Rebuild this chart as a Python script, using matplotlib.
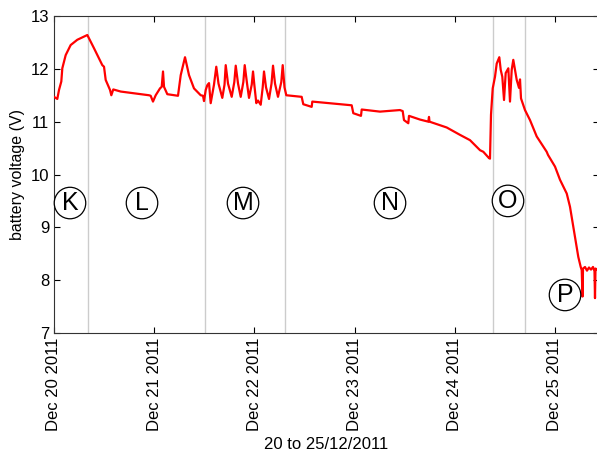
import datetime as dt
import matplotlib
matplotlib.use("Agg")
import matplotlib.pyplot as plt
import matplotlib.dates as mdates

# hours since 2011-12-20 00:00, battery voltage (V)
hours = [0.00, 0.79, 1.20, 1.75, 1.99, 2.80, 3.99, 5.58, 7.74, 7.98, 9.58, 11.57, 11.98, 12.38,
         13.42, 13.73, 14.20, 15.98, 22.75, 23.16, 23.71, 24.36, 25.39, 25.80, 26.11, 26.35,
         27.14, 29.70, 30.35, 31.38, 32.34, 33.53, 35.14, 35.69, 35.93, 36.34, 36.72, 37.13,
         37.53, 38.32, 38.87, 39.40, 40.31, 40.84, 41.13, 41.68, 42.56, 43.19, 43.53, 44.08,
         44.72, 45.35, 45.68, 46.24, 46.71, 47.36, 47.67, 47.98, 48.46, 48.86, 49.51, 49.99,
         50.30, 50.78, 51.50, 52.10, 52.46, 52.94, 53.65, 54.44, 54.78, 55.21, 55.64, 59.32,
         59.71, 61.72, 61.87, 70.11, 71.30, 71.69, 73.53, 73.70, 78.08, 82.87, 83.52, 83.83,
         84.86, 85.03, 87.66, 89.65, 89.82, 89.94, 94.06, 97.25, 99.64, 102.04, 102.83, 104.19,
         104.43, 104.67, 105.08, 105.63, 106.04, 106.66, 107.00, 107.38, 107.79, 108.19, 108.82,
         109.22, 109.63, 110.01, 110.83, 111.38, 111.62, 111.86, 112.81, 114.01, 115.62, 118.01,
         118.33, 120.00, 121.20, 122.81, 123.59, 124.79, 125.58, 126.16, 126.40, 126.59, 126.71,
         127.19, 127.66, 128.14, 128.62, 129.10, 129.46, 129.58, 129.70, 130.06]
volts = [11.47, 11.43, 11.60, 11.76, 12.01, 12.26, 12.45, 12.55, 12.63, 12.64, 12.39, 12.07, 12.04, 11.79,
         11.60, 11.50, 11.61, 11.57, 11.50, 11.49, 11.38, 11.50, 11.63, 11.66, 11.95, 11.66,
         11.52, 11.49, 11.88, 12.22, 11.88, 11.63, 11.50, 11.49, 11.39, 11.60, 11.69, 11.73,
         11.35, 11.70, 12.04, 11.72, 11.45, 11.70, 12.07, 11.72, 11.47, 11.75, 12.06, 11.72,
         11.47, 11.75, 12.07, 11.72, 11.45, 11.70, 11.95, 11.70, 11.35, 11.40, 11.32, 11.65,
         11.95, 11.65, 11.43, 11.72, 12.06, 11.72, 11.47, 11.75, 12.07, 11.65, 11.50, 11.47,
         11.33, 11.28, 11.38, 11.32, 11.31, 11.16, 11.11, 11.23, 11.19, 11.22, 11.20, 11.03,
         10.97, 11.11, 11.04, 11.00, 11.09, 11.00, 10.89, 10.75, 10.65, 10.46, 10.43, 10.31,
         10.30, 11.13, 11.63, 11.85, 12.10, 12.22, 11.98, 11.85, 11.41, 11.92, 12.01,
         11.38, 11.98, 12.17, 11.79, 11.64, 11.80, 11.44, 11.22, 11.03, 10.72, 10.43,
         10.37, 10.15, 9.90, 9.64, 9.39, 8.82, 8.44, 8.25, 8.19, 7.69, 8.22,
         8.25, 8.18, 8.24, 8.20, 8.25, 8.17, 7.66, 8.22, 8.20]

# event markers (hours) and phase labels
event_hours = [8.1, 36.2, 55.3, 105.1, 112.8]
phase_labels = ["K", "L", "M", "N", "O", "P"]
phase_hours = [3.83, 21.08, 45.27, 80.48, 108.74, 122.4]
phase_volts = [9.46, 9.46, 9.46, 9.46, 9.50, 7.72]

base = dt.datetime(2011, 12, 20)
times = [base + dt.timedelta(hours=h) for h in hours]

plt.rcParams['font.family'] = ['Liberation Sans', 'DejaVu Sans']
fig = plt.figure(figsize=(5.97, 4.54), dpi=100)
ax = fig.add_axes([54 / 597, 1 - 333 / 454, 1.003 - 54 / 597, (333 - 16) / 454])

for h in event_hours:
    ax.axvline(base + dt.timedelta(hours=h), color='#cccccc', lw=1, zorder=1)

ax.plot(times, volts, color='red', lw=1.6, zorder=3)

for lab, h, v in zip(phase_labels, phase_hours, phase_volts):
    ax.text(base + dt.timedelta(hours=h), v, lab, fontsize=18, ha='center', va='center',
            bbox=dict(boxstyle='circle,pad=0.15', fc='white', ec='black', lw=0.9), zorder=4)

ax.set_ylim(7, 13)
ax.set_yticks(range(7, 14))
ax.set_xlim(base, base + dt.timedelta(hours=130.06 + 0.003 * 597 * 24 / 100.2))
ax.xaxis.set_major_locator(mdates.DayLocator())
ax.xaxis.set_major_formatter(mdates.DateFormatter('%b %d %Y'))
for lbl in ax.get_xticklabels():
    lbl.set_rotation(90)
ax.tick_params(direction='in', top=True, right=True, length=4, labelsize=12)
ax.set_xlabel('20 to 25/12/2011', fontsize=12)
ax.set_ylabel('battery voltage (V)', fontsize=11.5)
for s in ax.spines.values():
    s.set_color('#333333')

fig.savefig('out.png', dpi=100)
